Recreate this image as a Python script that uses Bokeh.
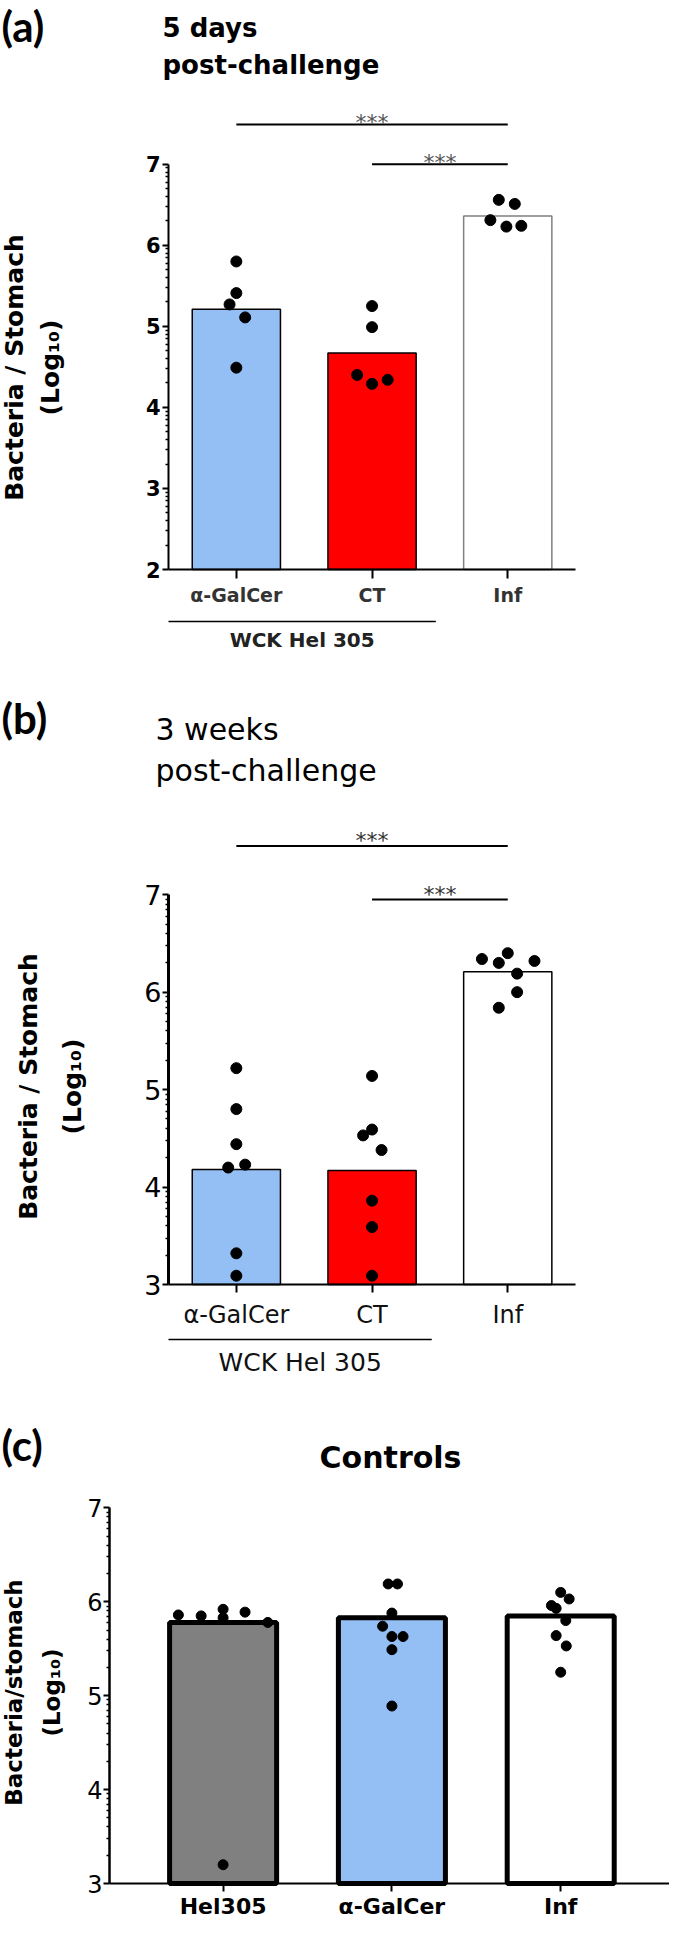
import math
from bokeh.plotting import figure
from bokeh.models import Range1d, LinearAxis, FixedTicker
from bokeh.layouts import column
from bokeh.core.properties import value
from bokeh.embed import file_html
from bokeh.resources import INLINE

# ---------------- data ----------------
# (a) 5 days post-challenge
groups_a = ["α-GalCer", "CT", "Inf"]
bars_a = [5.21, 4.67, 6.36]
pts_a_galcer = [5.80, 5.41, 5.27, 5.11, 4.49]
off_a_galcer = [0.0, 0.0, -0.05, 0.065, 0.0]
pts_a_ct = [5.25, 4.99, 4.40, 4.29, 4.34]
off_a_ct = [0.0, 0.0, -0.11, 0.0, 0.115]
pts_a_inf = [6.56, 6.51, 6.31, 6.23, 6.24]
off_a_inf = [-0.066, 0.052, -0.128, -0.01, 0.10]
sig_a_pairs = [(0, 2), (1, 2)]
sig_a_levels = [7.49, 7.0]
sig_a_text = ["***", "***"]

# (b) 3 weeks post-challenge
groups_b = ["α-GalCer", "CT", "Inf"]
bars_b = [4.18, 4.17, 6.21]
pts_b_galcer = [5.22, 4.80, 4.44, 4.20, 4.23, 3.32, 3.09]
off_b_galcer = [0.0, 0.0, 0.0, -0.06, 0.065, 0.0, 0.0]
pts_b_ct = [5.14, 4.59, 4.53, 4.38, 3.86, 3.59, 3.09]
off_b_ct = [0.0, 0.0, -0.066, 0.07, 0.0, 0.0, 0.0]
pts_b_inf = [6.34, 6.30, 6.40, 6.32, 6.19, 6.00, 5.84]
off_b_inf = [-0.19, -0.066, 0.0, 0.197, 0.069, 0.069, -0.066]
sig_b_pairs = [(0, 2), (1, 2)]
sig_b_levels = [7.50, 6.95]
sig_b_text = ["***", "***"]

# (c) Controls
groups_c = ["Hel305", "α-GalCer", "Inf"]
bars_c = [5.78, 5.83, 5.85]
pts_c_hel = [5.86, 5.85, 5.92, 5.83, 5.89, 5.78, 3.20]
off_c_hel = [-0.265, -0.13, 0.0, 0.0, 0.13, 0.265, 0.0]
pts_c_galcer = [6.19, 6.19, 5.88, 5.74, 5.63, 5.63, 5.49, 4.89]
off_c_galcer = [-0.022, 0.033, 0.0, -0.055, 0.0, 0.066, 0.0, 0.0]
pts_c_inf = [6.10, 6.03, 5.96, 5.93, 5.80, 5.64, 5.53, 5.25]
off_c_inf = [0.0, 0.05, -0.055, -0.027, 0.03, -0.027, 0.033, 0.0]

y_ticks_a = [2, 3, 4, 5, 6, 7]
y_ticks_bc = [3, 4, 5, 6, 7]

BLUE = "#94BFF5"
RED = "#FF0000"
GRAY = "#808080"

W = 669
DJ = "DejaVu Sans"


def log_minors(ticks):
    return [n + math.log10(k) for n in ticks[:-1] for k in range(2, 10)]


def make_panel(H, ax_px, xl, ppx, ybase, ybase_px, ppy):
    x0 = xl - ax_px / ppx
    x1 = x0 + W / ppx
    y1 = ybase + ybase_px / ppy
    y0 = y1 - H / ppy
    p = figure(width=W, height=H, x_range=Range1d(x0, x1), y_range=Range1d(y0, y1),
               output_backend="svg", toolbar_location=None,
               x_axis_type=None, y_axis_type=None, title=None,
               min_border=0, min_border_left=0, min_border_right=0,
               min_border_top=0, min_border_bottom=0)
    p.outline_line_color = None
    p.background_fill_color = "white"
    p.border_fill_color = "white"

    def X(cx):
        return x0 + cx / ppx

    def Y(cy):
        return y1 - cy / ppy

    return p, X, Y, x1


def txt(p, x, y, s, size, bold=False, font=DJ, align="left", baseline="alphabetic",
        angle=0.0, color="black"):
    p.text(x=[x], y=[y], text=[s], text_font=value(font),
           text_font_size=value(f"{size}px"),
           text_font_style="bold" if bold else "normal",
           text_align=align, text_baseline=baseline, angle=angle, text_color=color)


def add_axes(p, xl, xr, ybase, yticks, groups, ylw, ytick_out, ylab_size, ylab_bold,
             ylab_standoff, xlab_size, xlab_bold, xlab_color, xtick_out, xlab_standoff, xlw):
    yax = LinearAxis(fixed_location=xl, bounds=(ybase, yticks[-1]),
                     ticker=FixedTicker(ticks=yticks, minor_ticks=log_minors(yticks)))
    yax.axis_line_width = ylw
    yax.major_tick_line_width = 2
    yax.major_tick_out = ytick_out
    yax.major_tick_in = 0
    yax.minor_tick_line_width = 1.5
    yax.minor_tick_out = 3
    yax.minor_tick_in = 0
    yax.major_label_standoff = ylab_standoff
    yax.major_label_text_font = DJ
    yax.major_label_text_font_size = f"{ylab_size}px"
    yax.major_label_text_font_style = "bold" if ylab_bold else "normal"
    yax.major_label_text_color = "black"
    p.add_layout(yax, "left")

    xax = LinearAxis(fixed_location=ybase, bounds=(xl, xr),
                     ticker=FixedTicker(ticks=list(range(len(groups))), minor_ticks=[]),
                     major_label_overrides={i: g for i, g in enumerate(groups)})
    xax.axis_line_width = xlw
    xax.major_tick_line_width = 2
    xax.major_tick_out = xtick_out
    xax.major_tick_in = 0
    xax.minor_tick_out = 0
    xax.minor_tick_in = 0
    xax.major_label_standoff = xlab_standoff
    xax.major_label_text_font = DJ
    xax.major_label_text_font_size = f"{xlab_size}px"
    xax.major_label_text_font_style = "bold" if xlab_bold else "normal"
    xax.major_label_text_color = xlab_color
    p.add_layout(xax, "below")


def add_points(p, groups_pts, groups_off, size):
    xs, ys = [], []
    for i, (pts, offs) in enumerate(zip(groups_pts, groups_off)):
        for v, o in zip(pts, offs):
            xs.append(i + o)
            ys.append(v)
    p.scatter(x=xs, y=ys, size=size, color="black", line_color="black")


def add_sig(p, pairs, levels, texts, lw, star_size, star_gap_px, ppy, color):
    p.segment(x0=[a for a, b in pairs], y0=levels, x1=[b for a, b in pairs], y1=levels,
              line_width=lw, line_color="black")
    # asterisk ink centre sits ~0.59 em above the baseline
    for (a, b), lev, t in zip(pairs, levels, texts):
        base = lev + (star_gap_px - 0.59 * star_size) / ppy
        txt(p, (a + b) / 2, base, t, star_size, align="center", color=color)


# ---------------- panel (a) ----------------
ppx_a, ppy_a = 135.7, 81.06
pa, Xa, Ya, xr_a = make_panel(680, 168, -0.5, ppx_a, 2, 569, ppy_a)
pa.vbar(x=list(range(3)), top=bars_a, bottom=2, width=0.65,
        fill_color=[BLUE, RED, "white"], line_color=["black", "black", GRAY], line_width=1.5)
add_points(pa, [pts_a_galcer, pts_a_ct, pts_a_inf], [off_a_galcer, off_a_ct, off_a_inf], 11)
add_axes(pa, -0.5, 2.5, 2, y_ticks_a, groups_a, 2, 6, 21, True, 2, 19, True, "#333333", 9, 5, 2)
add_sig(pa, sig_a_pairs, sig_a_levels, sig_a_text, 2, 22, 15, ppy_a, "#555555")
txt(pa, Xa(1), Ya(0), "(a)", 42, bold=True, font="Lato", baseline="top")
txt(pa, Xa(162), Ya(27), "5 days", 26, bold=True)
txt(pa, Xa(162), Ya(64), "post-challenge", 26, bold=True)
txt(pa, Xa(14), Ya(367), "Bacteria / Stomach", 25, bold=True, align="center",
    baseline="middle", angle=math.pi / 2)
txt(pa, Xa(50), Ya(367), "(Log₁₀)", 25, bold=True, align="center",
    baseline="middle", angle=math.pi / 2)
pa.segment(x0=[-0.5], y0=[Ya(621)], x1=[1.47], y1=[Ya(621)], line_width=1.5, line_color="black")
txt(pa, (-0.5 + 1.47) / 2, Ya(639), "WCK Hel 305", 20, bold=True, align="center",
    baseline="middle", color="#222222")

# ---------------- panel (b) ----------------
ppx_b, ppy_b = 135.7, 97.45
pb, Xb, Yb, xr_b = make_panel(720, 168, -0.5, ppx_b, 3, 604, ppy_b)
pb.vbar(x=list(range(3)), top=bars_b, bottom=3, width=0.65,
        fill_color=[BLUE, RED, "white"], line_color="black", line_width=1.5)
add_points(pb, [pts_b_galcer, pts_b_ct, pts_b_inf], [off_b_galcer, off_b_ct, off_b_inf], 11)
add_axes(pb, -0.5, 2.5, 3, y_ticks_bc, groups_b, 3, 6, 27, False, 1, 24, False, "#111111", 8, 8, 2)
add_sig(pb, sig_b_pairs, sig_b_levels, sig_b_text, 2, 22, 18, ppy_b, "#333333")
txt(pb, Xb(1), Yb(12), "(b)", 42, bold=True, font="Lato", baseline="top")
txt(pb, Xb(155), Yb(49), "3 weeks", 30)
txt(pb, Xb(155), Yb(90), "post-challenge", 30)
txt(pb, Xb(28), Yb(406), "Bacteria / Stomach", 25, bold=True, align="center",
    baseline="middle", angle=math.pi / 2)
txt(pb, Xb(72), Yb(406), "(Log₁₀)", 25, bold=True, align="center",
    baseline="middle", angle=math.pi / 2)
pb.segment(x0=[-0.5], y0=[Yb(659)], x1=[1.44], y1=[Yb(659)], line_width=1.5, line_color="black")
txt(pb, (-0.5 + 1.44) / 2, Yb(682), "WCK Hel 305", 25, align="center",
    baseline="middle", color="#111111")

# ---------------- panel (c) ----------------
ppx_c, ppy_c = 168.8, 93.9
pc, Xc, Yc, xr_c = make_panel(517, 109, -0.673, ppx_c, 3, 483, ppy_c)
pc.vbar(x=list(range(3)), top=bars_c, bottom=3, width=0.634,
        fill_color=[GRAY, BLUE, "white"], line_color="black", line_width=5)
add_points(pc, [pts_c_hel, pts_c_galcer, pts_c_inf], [off_c_hel, off_c_galcer, off_c_inf], 10)
add_axes(pc, -0.673, xr_c, 3, y_ticks_bc, groups_c, 2.5, 6, 24, False, 1, 22, True, "black", 8, 2, 2)
txt(pc, Xc(1), Yc(19), "(c)", 42, bold=True, font="Lato", baseline="top")
txt(pc, Xc(390), Yc(57), "Controls", 30, bold=True, align="center")
txt(pc, Xc(13), Yc(292), "Bacteria/stomach", 23, bold=True, align="center",
    baseline="middle", angle=math.pi / 2)
txt(pc, Xc(51), Yc(292), "(Log₁₀)", 23, bold=True, align="center",
    baseline="middle", angle=math.pi / 2)

layout = column(pa, pb, pc)
open("out.html", "w").write(file_html(layout, INLINE))
